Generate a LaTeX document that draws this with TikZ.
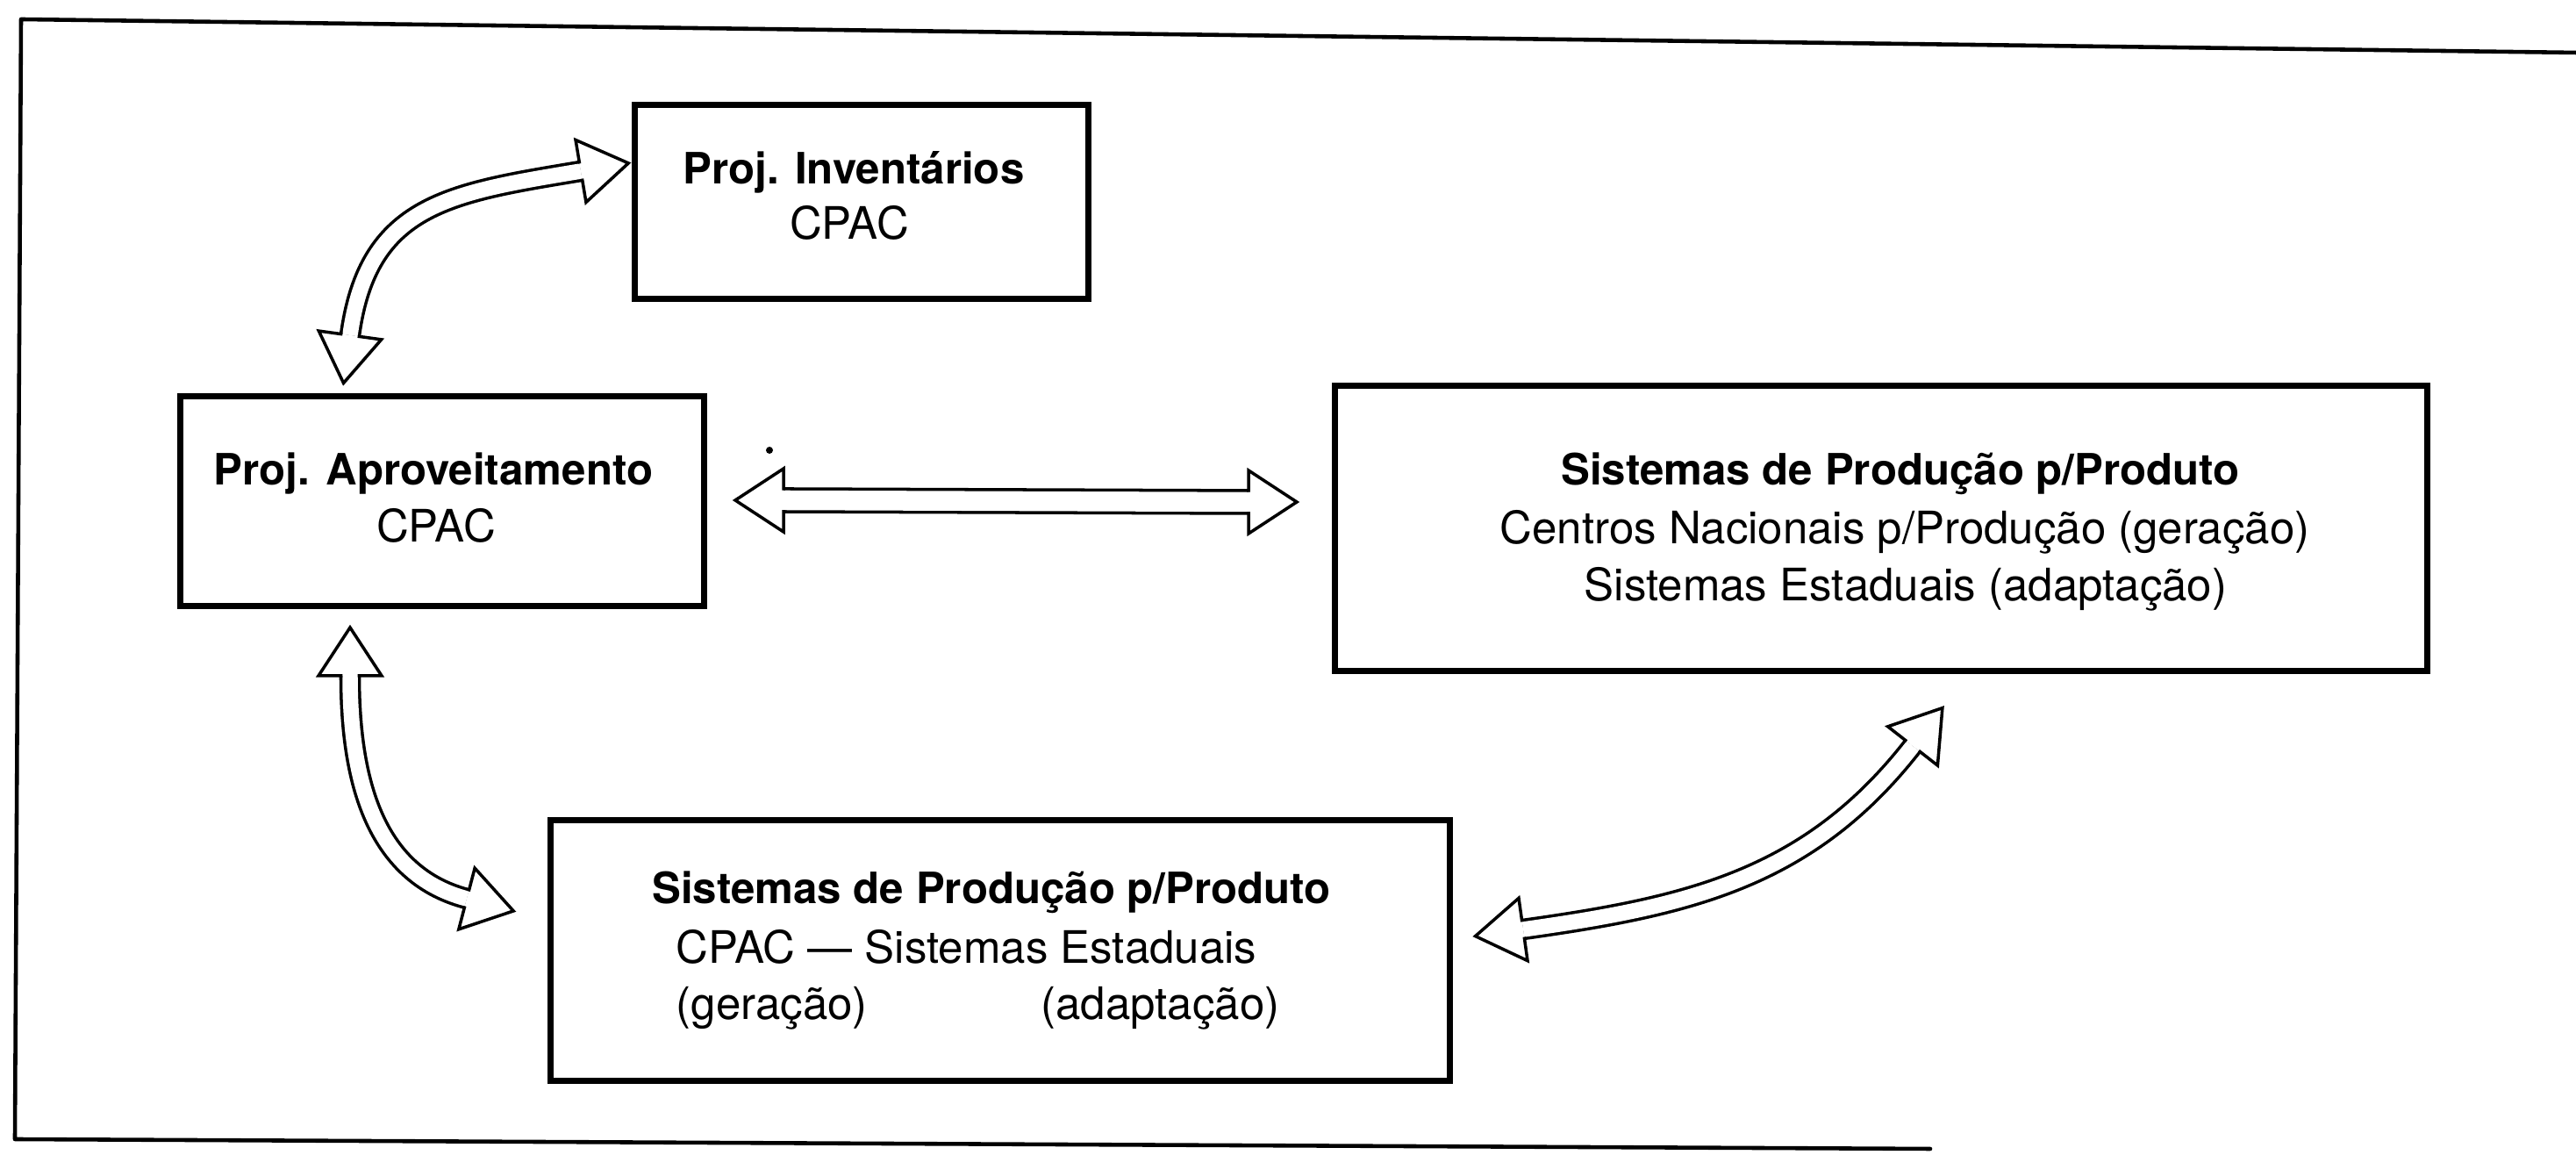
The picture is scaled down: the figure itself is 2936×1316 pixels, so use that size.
\documentclass[tikz,border=0pt]{standalone}
\usepackage{fontspec}
\setmainfont{TeX Gyre Heros}
\newcommand\hollowhead[3]{%
  \begin{scope}[shift={(#1)},rotate=#2]
    \filldraw[arrhead] (0,#3) -- (0,36) -- (55,0) -- (0,-36) -- (0,-#3);
  \end{scope}}
\begin{document}
\begin{tikzpicture}[x=0.01cm, y=0.01cm,
  box/.style={draw, line width=2pt, inner sep=0pt, outer sep=0pt},
  frameline/.style={line width=1.3pt, line cap=round, line join=round},
  txt/.style={inner sep=0pt, anchor=base, font=\fontsize{14.5}{17}\selectfont},
  btxt/.style={inner sep=0pt, anchor=base, font=\fontsize{14}{17}\selectfont\bfseries},
  arrhead/.style={fill=white, draw=black, line width=1pt, line cap=rect, line join=miter},
  shaftcurve/.style={line width=1pt, double=white, double distance=0.175cm},
  shaftstraight/.style={line width=1pt, double=white, double distance=0.225cm}]
\useasboundingbox (0,0) rectangle (2936,1316);
\fill[white] (0,0) rectangle (2936,1316);

% frame
\coordinate (ftl) at (24,1294);
\coordinate (ftr) at (2936,1256);
\coordinate (fbl) at (17,18);
\coordinate (fbr) at (2200,7);
\draw[frameline] (ftr) -- (ftl) -- (fbl) -- (fbr);

% boxes
\node[box, minimum width=5.16cm, minimum height=2.2cm] (inv) at (982,1086) {};
\node[box, minimum width=5.96cm, minimum height=2.38cm] (apr) at (504,745) {};
\node[box, minimum width=12.44cm, minimum height=3.25cm] (rgt) at (2144,714) {};
\node[box, minimum width=10.25cm, minimum height=2.97cm] (bot) at (1140,233) {};

% texts
\node[btxt] (inv1) at (973,1106) {Proj. Inventários};
\node[txt] (inv2) at (968,1043) {CPAC};
\node[btxt] (apr1) at (494,763) {Proj. Aproveitamento};
\node[txt] (apr2) at (497,698) {CPAC};
\node[btxt] (r1) at (2166,763) {Sistemas de Produção p/Produto};
\node[txt] (r2) at (2171,696) {Centros Nacionais p/Produção (geração)};
\node[txt] (r3) at (2172,631) {Sistemas Estaduais (adaptação)};
\node[btxt] (b1) at (1130,286) {Sistemas de Produção p/Produto};
\node[txt, anchor=base west] (b2) at (770,218) {CPAC — Sistemas Estaduais};
\node[txt, anchor=base west] (b3a) at (770,154) {(geração)};
\node[txt, anchor=base east] (b3b) at (1459,154) {(adaptação)};

% arrow end coordinates (head bases)
\coordinate (a1s) at (662,1121);
\coordinate (a1e) at (399,934);
\coordinate (a2s) at (893,746);
\coordinate (a2e) at (1423,744);
\coordinate (a3s) at (399,546);
\coordinate (a3e) at (532,292);
\coordinate (a4s) at (2180,466);
\coordinate (a4e) at (1736,257);

% shafts
\draw[shaftcurve] (a1s) to[out=189.5, in=82.2, looseness=1.2] (a1e);
\draw[shaftstraight] (a2s) -- (a2e);
\draw[shaftcurve] (a3s) to[out=270, in=165.3] (a3e);
\draw[shaftcurve] (a4s) to[out=232, in=8] (a4e);

% heads
\hollowhead{a1s}{9.5}{10.5}
\hollowhead{a1e}{262.2}{10.5}
\hollowhead{a2s}{180}{13}
\hollowhead{a2e}{0}{13}
\hollowhead{a3s}{90}{10.5}
\hollowhead{a3e}{-14.7}{10.5}
\hollowhead{a4s}{52}{10.5}
\hollowhead{a4e}{188}{10.5}

% speck
\fill (877,803) circle[radius=4];
\end{tikzpicture}
\end{document}
